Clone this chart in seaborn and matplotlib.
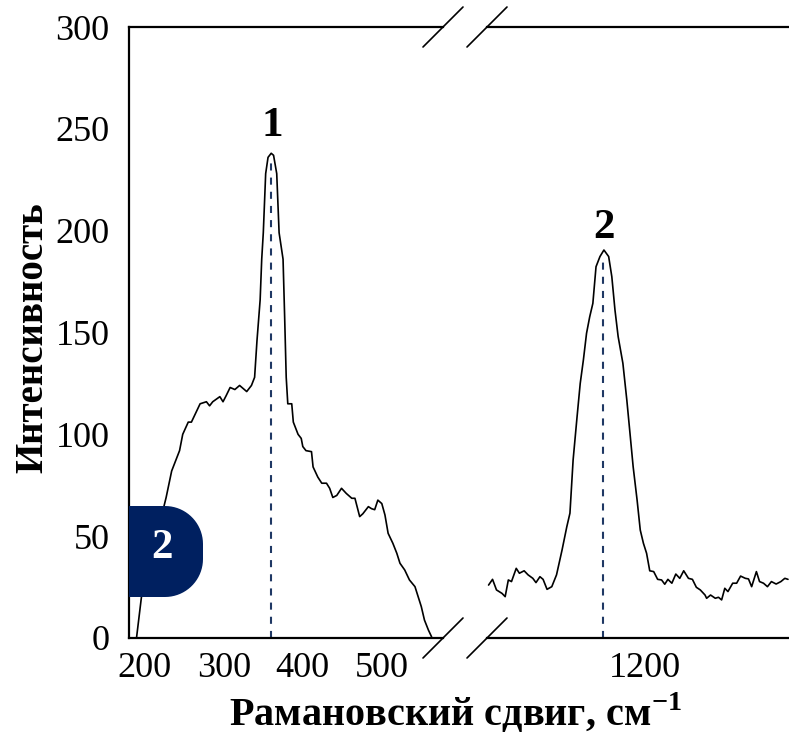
import numpy as np
import pandas as pd
import matplotlib
matplotlib.use("Agg")
import matplotlib.pyplot as plt
from matplotlib.patches import Polygon
import seaborn as sns

# Raman spectrum, two windows of the shift axis
left_shift = [189.5, 195.8, 210.5, 227, 234, 244, 248, 255, 259, 270, 278, 282, 286, 295,
              299, 303, 308, 314, 320, 329, 335, 339, 342, 346, 348, 350, 353, 356, 360,
              363, 367, 370, 375, 377, 379, 381, 386, 388, 394, 398, 400, 404, 411, 413,
              419, 424, 430, 434, 438, 443, 449, 455, 462, 466, 472, 476, 483, 487, 491,
              495, 500, 504, 508, 514, 519, 523, 529, 535, 542, 546, 550, 554, 559, 563]
left_int = [0, 20.3, 43, 69, 82, 92, 100, 106, 106, 115, 116, 114, 116, 118.5,
            116, 119, 123, 122, 124, 121, 124, 128, 146, 166, 186, 199, 228, 236, 238,
            237, 228, 199, 186, 158, 128, 115, 115, 106, 100, 98, 94, 92, 91.5, 84,
            79, 76, 76, 73.5, 69, 70, 73.5, 71, 68.6, 68.6, 59.6, 61, 64.5, 63.5, 63,
            67.7, 66, 60.4, 51.4, 46.5, 41.6, 36.7, 33.4, 28.5, 25.2, 20.3, 15.4, 8.8, 3.9, 0.6]

right_shift = [1002, 1007, 1012, 1019, 1023, 1027, 1031, 1037, 1041, 1047, 1052, 1058, 1062,
               1067, 1071, 1076, 1082, 1088, 1095, 1101, 1105, 1109, 1114, 1118, 1122, 1126,
               1130, 1134, 1138, 1143, 1148, 1154, 1158, 1162, 1166, 1172, 1177, 1181, 1185,
               1190, 1194, 1198, 1202, 1206, 1211, 1216, 1221, 1225, 1229, 1234, 1239, 1244,
               1249, 1255, 1260, 1265, 1270, 1276, 1278, 1283, 1289, 1293, 1297, 1301, 1305,
               1311, 1316, 1321, 1327, 1331, 1335, 1341, 1345, 1350, 1355, 1360, 1366, 1372,
               1377, 1381]
right_int = [26.0, 28.8, 23.6, 21.9, 20.3, 28.5, 27.7, 34.2, 31.8, 33, 31, 29.3, 27.2,
             30.1, 28.8, 23.9, 25.2, 31, 43.2, 54.6, 61.3, 87.4, 108.6, 125, 136.5, 149.6,
             157.7, 164.3, 182.3, 187.3, 190.5, 187.3, 177.4, 161, 148, 134.9, 116.8, 100.5, 84.1,
             67.7, 53, 46.5, 41.6, 33, 32.6, 28.8, 28.5, 26.4, 28.8, 26.9, 31.4, 29.3,
             33, 29.3, 28.8, 24.9, 23.6, 21.1, 19.5, 21.1, 19.5, 20, 18.7, 24.4, 22.8,
             26.9, 26.9, 30.4, 29.3, 29.0, 25.2, 32.6, 27.7, 26.9, 25.2, 27.7, 26.5, 27.7,
             29.3, 28.8]

peak_pos = [360, 1147]
peak_top = [236, 186]
peak_names = ["1", "2"]
x_ticks_left = [200, 300, 400, 500]
x_ticks_right = [1200]
y_ticks = [0, 50, 100, 150, 200, 250, 300]

sns.set_theme(style="white")
plt.rcParams["font.family"] = ["Liberation Serif", "DejaVu Serif"]
plt.rcParams["mathtext.fontset"] = "custom"
plt.rcParams["mathtext.rm"] = "Liberation Serif"
plt.rcParams["mathtext.bf"] = "Liberation Serif:bold"
plt.rcParams["text.color"] = "black"

navy = "#1F3864"
W, H = 789, 734
fig = plt.figure(figsize=(W / 100, H / 100), dpi=100)
ax1 = fig.add_axes([129 / W, 96 / H, 314 / W, 611 / H])
ax2 = fig.add_axes([487 / W, 96 / H, 302 / W, 611 / H])

df_l = pd.DataFrame({"shift": left_shift, "intensity": left_int})
df_r = pd.DataFrame({"shift": right_shift, "intensity": right_int})
sns.lineplot(data=df_l, x="shift", y="intensity", ax=ax1, color="black", lw=1.2,
             estimator=None, sort=False)
sns.lineplot(data=df_r, x="shift", y="intensity", ax=ax2, color="black", lw=1.2,
             estimator=None, sort=False)

ax1.set_xlim(180, 180 + 314 / 0.79)
ax2.set_xlim(1000, 1000 + 302 / 0.79)
for ax in (ax1, ax2):
    ax.set_ylim(0, 300)
    ax.set_xlabel("")
    ax.set_ylabel("")
    for s in ax.spines.values():
        s.set_linewidth(1.6)
        s.set_color("black")
    ax.spines["right"].set_visible(False)
    ax.tick_params(axis="x", direction="in", length=9, width=1.8, pad=10,
                   labelsize=26, colors="black")
    ax.patch.set_alpha(0)

ax1.set_xticks(x_ticks_left)
ax2.set_xticks(x_ticks_right)
ax1.set_yticks(y_ticks)
ax1.tick_params(axis="y", direction="in", length=8, width=1.5, pad=14,
                labelsize=26, colors="black")
ax2.spines["left"].set_visible(False)
ax2.set_yticks([])

# dashed peak markers and numbers
for ax, p, top, name in zip((ax1, ax2), peak_pos, peak_top, peak_names):
    ax.vlines(p, 0, top, colors=navy, linestyles=(0, (3.4, 3.4)), lw=1.5)
    ax.text(p + 1, top + 6, name, ha="center", va="bottom", fontsize=31,
            fontweight="bold", color="black")

# break marks
dx, dy = 20, 20
for x0 in (443, 487):
    for y0 in (638, 27):
        fig.add_artist(plt.Line2D([(x0 - dx) / W, (x0 + dx) / W],
                                  [(H - y0 - dy) / H, (H - y0 + dy) / H],
                                  color="black", lw=1.2))

# badge: square on the left, rounded on the right (pixel outline -> figure fraction)
bx0, bx1, by0, by1, r = 129, 203, 506, 597, 38
t = np.linspace(np.pi / 2, 0, 20)
pts = [(bx0, by0)]
pts += [(bx1 - r + r * np.cos(a), by0 + r - r * np.sin(a)) for a in t]
pts += [(bx1 - r + r * np.cos(a), by1 - r + r * np.sin(a)) for a in t[::-1]]
pts += [(bx0, by1)]
fig.add_artist(Polygon([(px / W, 1 - py / H) for px, py in pts], closed=True,
                       transform=fig.transFigure, facecolor="#002060", edgecolor="none"))
fig.text(162 / W, 1 - 548 / H, "2", ha="center", va="center", fontsize=31,
         fontweight="bold", color="white")

fig.text(455 / W, 1 - 713 / H, r"Рамановский сдвиг, см$^{\mathbf{-1}}$",
         ha="center", va="center", fontsize=29, fontweight="bold")
fig.text(33 / W, 1 - 338 / H, "Интенсивность", ha="center", va="center",
         rotation=90, fontsize=28, fontweight="bold")

fig.savefig("out.png", dpi=100)
